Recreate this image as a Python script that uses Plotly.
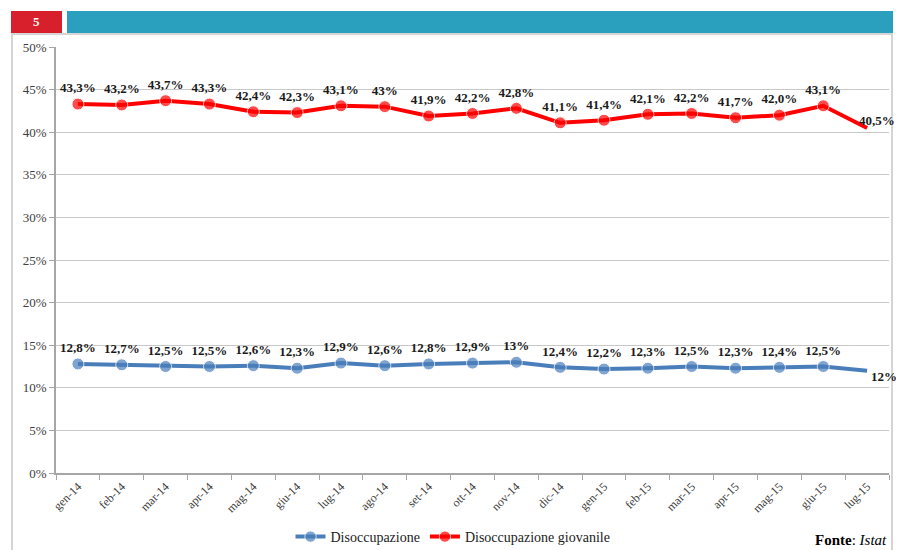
import plotly.graph_objects as go

months = ["gen-14", "feb-14", "mar-14", "apr-14", "mag-14", "giu-14", "lug-14", "ago-14",
          "set-14", "ott-14", "nov-14", "dic-14", "gen-15", "feb-15", "mar-15", "apr-15",
          "mag-15", "giu-15", "lug-15"]
disoccupazione = [12.8, 12.7, 12.5, 12.5, 12.6, 12.3, 12.9, 12.6, 12.8, 12.9, 13.0, 12.4,
                  12.2, 12.3, 12.5, 12.3, 12.4, 12.5, 12.0]
disoccupazione_labels = ["12,8%", "12,7%", "12,5%", "12,5%", "12,6%", "12,3%", "12,9%", "12,6%",
                         "12,8%", "12,9%", "13%", "12,4%", "12,2%", "12,3%", "12,5%", "12,3%",
                         "12,4%", "12,5%", "12%"]
giovanile = [43.3, 43.2, 43.7, 43.3, 42.4, 42.3, 43.1, 43.0, 41.9, 42.2, 42.8, 41.1,
             41.4, 42.1, 42.2, 41.7, 42.0, 43.1, 40.5]
giovanile_labels = ["43,3%", "43,2%", "43,7%", "43,3%", "42,4%", "42,3%", "43,1%", "43%",
                    "41,9%", "42,2%", "42,8%", "41,1%", "41,4%", "42,1%", "42,2%", "41,7%",
                    "42,0%", "43,1%", "40,5%"]

# page body has an 8px margin: the figure is drawn at screen offset (8, 8)
OFF = 8
W, H = 904 - OFF, 550 - OFF
# plot area in screen pixels
L, R, T, B = 56, 889, 47, 473
pw, ph = R - L, B - T

def px(x):
    return (x - L) / pw

def py(y):
    return (B - y) / ph

BLUE = "#4A7EBB"
RED = "#FF0000"
SERIF = "Liberation Serif, Times New Roman, serif"
LABEL_FONT = dict(family=SERIF, size=13, color="#1a1a1a", weight="bold")

n = len(months)
sizes = [12] * (n - 1) + [0]

fig = go.Figure()
fig.add_trace(go.Scatter(
    x=months, y=disoccupazione, name="Disoccupazione", mode="lines+markers+text",
    line=dict(color=BLUE, width=4), marker=dict(color=BLUE, size=sizes),
    text=disoccupazione_labels[:-1] + [""], textposition="top center",
    textfont=LABEL_FONT, cliponaxis=False,
))
fig.add_trace(go.Scatter(
    x=months, y=giovanile, name="Disoccupazione giovanile", mode="lines+markers+text",
    line=dict(color=RED, width=4), marker=dict(color=RED, size=sizes),
    text=giovanile_labels[:-1] + [""], textposition="top center",
    textfont=LABEL_FONT, cliponaxis=False,
))

shapes = [
    # outer frame
    dict(type="rect", xref="paper", yref="paper", x0=px(12), x1=px(892), y0=py(600), y1=py(34),
         line=dict(color="#C8C8C8", width=1.5), fillcolor="rgba(0,0,0,0)", layer="below"),
    # header red box
    dict(type="rect", xref="paper", yref="paper", x0=px(11), x1=px(62), y0=py(33), y1=py(11),
         line=dict(width=0), fillcolor="#D7202B"),
    # header teal bar
    dict(type="rect", xref="paper", yref="paper", x0=px(67), x1=px(893), y0=py(33), y1=py(11),
         line=dict(width=0), fillcolor="#2BA0BE"),
]

annotations = [
    dict(text="<b>5</b>", x=px(36), y=py(22), xref="paper", yref="paper", showarrow=False,
         font=dict(family=SERIF, size=13, color="white"), xanchor="center", yanchor="middle"),
    dict(text="<b>Fonte</b>: <i>Istat</i>", x=px(889), y=py(540), xref="paper", yref="paper",
         showarrow=False, font=dict(family=SERIF, size=15, color="black"),
         xanchor="right", yanchor="middle"),
    # last-point labels, anchored to the data point
    dict(text=giovanile_labels[-1], x=months[-1], y=giovanile[-1], xref="x", yref="y",
         showarrow=False, font=LABEL_FONT, xanchor="center", yanchor="middle",
         xshift=10, yshift=7),
    dict(text=disoccupazione_labels[-1], x=months[-1], y=disoccupazione[-1], xref="x", yref="y",
         showarrow=False, font=LABEL_FONT, xanchor="center", yanchor="middle",
         xshift=17, yshift=-6),
]

fig.update_layout(
    width=W, height=H,
    margin=dict(l=L - OFF, r=W - (R - OFF), t=T - OFF, b=H - (B - OFF)),
    paper_bgcolor="white", plot_bgcolor="white",
    shapes=shapes, annotations=annotations,
    showlegend=True,
    legend=dict(orientation="h", x=px(453), xanchor="center",
                yref="container", y=1 - (537 - OFF) / H, yanchor="middle",
                font=dict(family=SERIF, size=14, color="#222"),
                bgcolor="rgba(0,0,0,0)"),
    xaxis=dict(type="category", range=[-0.5, n - 0.5], showgrid=False,
               showline=True, linecolor="#A6A6A6", linewidth=1.5,
               ticks="outside", tickson="boundaries", ticklen=5, tickcolor="#A6A6A6",
               tickangle=-45, tickfont=dict(family=SERIF, size=12, color="#404040"),
               automargin=False),
    yaxis=dict(range=[0, 50], dtick=5, ticksuffix="%", showgrid=True, gridcolor="#C8C8C8",
               gridwidth=1.2, showline=True, linecolor="#A6A6A6", linewidth=1.5,
               ticks="outside", ticklen=5, tickcolor="#A6A6A6", zeroline=False,
               tickfont=dict(family=SERIF, size=13, color="#404040"), automargin=False),
)

fig.write_html("out.html")
